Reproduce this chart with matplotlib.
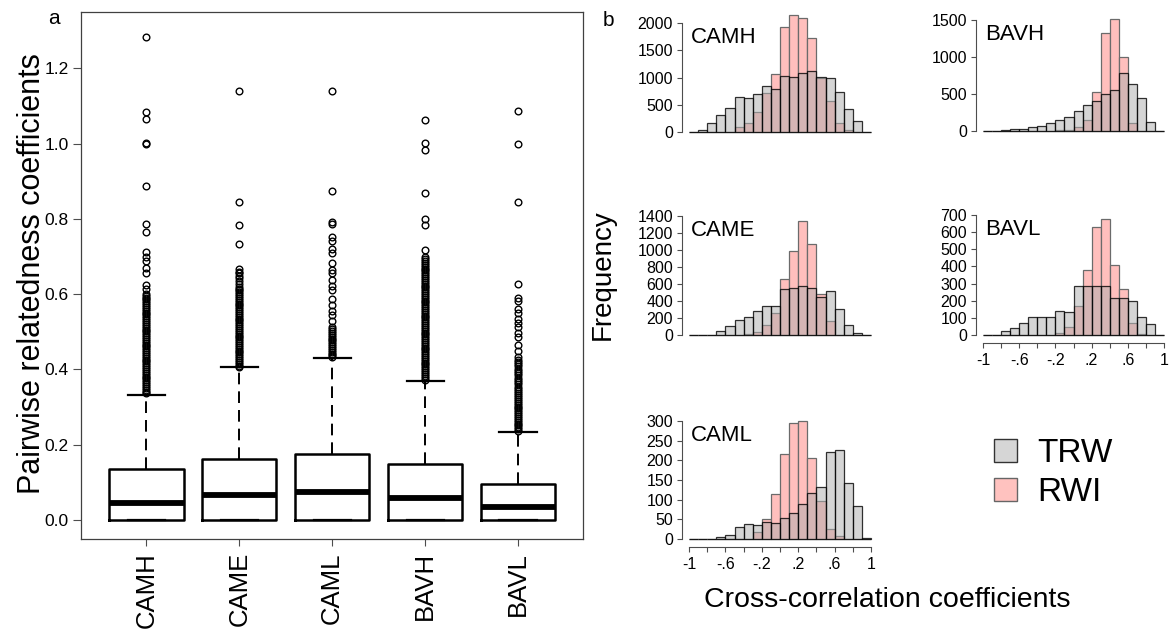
import numpy as np
import matplotlib
matplotlib.use('Agg')
import matplotlib.pyplot as plt
from matplotlib.patches import Patch

plt.rcParams['font.family'] = ['Liberation Sans', 'DejaVu Sans']

W, H = 1173, 630

# ---- panel a: pairwise relatedness per population ----
groups = ['CAMH', 'CAME', 'CAML', 'BAVH', 'BAVL']
q1 = [0.0, 0.0, 0.0, 0.0, 0.0]
medians = [0.045, 0.066, 0.075, 0.059, 0.034]
q3 = [0.136, 0.163, 0.174, 0.149, 0.094]
whisk_lo = [0.0, 0.0, 0.0, 0.0, 0.0]
whisk_hi = [0.333, 0.405, 0.430, 0.370, 0.234]

out_camh = [1.283, 1.085, 1.065, 1.003, 1.000, 0.888, 0.787, 0.766, 0.712, 0.700,
            0.687, 0.670, 0.657, 0.624, 0.613, 0.600, 0.596, 0.591, 0.586, 0.581,
            0.576, 0.571, 0.566, 0.561, 0.556, 0.551, 0.546, 0.541, 0.536, 0.531,
            0.526, 0.521, 0.516, 0.511, 0.506, 0.501, 0.496, 0.491, 0.486, 0.481,
            0.476, 0.471, 0.466, 0.461, 0.456, 0.451, 0.446, 0.441, 0.436, 0.431,
            0.426, 0.421, 0.416, 0.411, 0.406, 0.401, 0.396, 0.391, 0.386, 0.381,
            0.376, 0.371, 0.366, 0.361, 0.356, 0.351, 0.346, 0.341, 0.337]
out_came = [1.139, 0.845, 0.783, 0.733, 0.666, 0.660, 0.655, 0.648, 0.642, 0.636,
            0.628, 0.620, 0.615, 0.610, 0.605, 0.600, 0.595, 0.590, 0.585, 0.580,
            0.575, 0.570, 0.565, 0.560, 0.555, 0.550, 0.545, 0.540, 0.535, 0.530,
            0.525, 0.520, 0.515, 0.510, 0.505, 0.500, 0.495, 0.490, 0.485, 0.480,
            0.475, 0.470, 0.465, 0.460, 0.455, 0.450, 0.445, 0.440, 0.435, 0.430,
            0.425, 0.420, 0.415, 0.410, 0.407]
out_caml = [1.139, 0.873, 0.793, 0.787, 0.752, 0.741, 0.720, 0.709, 0.683, 0.665,
            0.656, 0.638, 0.622, 0.611, 0.587, 0.571, 0.554, 0.544, 0.528, 0.512,
            0.507, 0.502, 0.497, 0.492, 0.487, 0.482, 0.477, 0.472, 0.467, 0.462,
            0.457, 0.452, 0.447, 0.442, 0.437, 0.433]
out_bavh = [1.062, 1.003, 0.982, 0.870, 0.800, 0.784, 0.718, 0.699, 0.693, 0.688,
            0.683, 0.678, 0.673, 0.668, 0.663, 0.658, 0.653, 0.648, 0.643, 0.638,
            0.633, 0.628, 0.623, 0.618, 0.613, 0.608, 0.603, 0.598, 0.593, 0.588,
            0.583, 0.578, 0.573, 0.568, 0.563, 0.558, 0.553, 0.548, 0.543, 0.538,
            0.533, 0.528, 0.523, 0.518, 0.513, 0.508, 0.503, 0.498, 0.493, 0.488,
            0.483, 0.478, 0.473, 0.468, 0.463, 0.458, 0.453, 0.448, 0.443, 0.438,
            0.433, 0.428, 0.423, 0.418, 0.413, 0.408, 0.403, 0.398, 0.393, 0.388,
            0.383, 0.378, 0.373]
out_bavl = [1.088, 1.000, 0.845, 0.628, 0.589, 0.583, 0.560, 0.549, 0.535, 0.522,
            0.512, 0.498, 0.485, 0.466, 0.448, 0.432, 0.426, 0.420, 0.414, 0.408,
            0.402, 0.396, 0.390, 0.384, 0.378, 0.372, 0.366, 0.360, 0.354, 0.348,
            0.342, 0.336, 0.331, 0.326, 0.321, 0.316, 0.311, 0.306, 0.301, 0.296,
            0.291, 0.286, 0.281, 0.276, 0.271, 0.266, 0.261, 0.256, 0.251, 0.246,
            0.241, 0.237]
outliers = [out_camh, out_came, out_caml, out_bavh, out_bavl]

# ---- panel b: cross-correlation histograms (bin counts, width 0.1 from -1 to 1) ----
trw_camh = [0, 43, 165, 320, 440, 645, 620, 700, 840, 785, 1035, 1010, 1090, 1120, 1005, 1000, 730, 415, 210, 0]
rwi_camh = [0, 0, 0, 0, 5, 90, 165, 360, 710, 1060, 1930, 2150, 2095, 1730, 990, 560, 165, 30, 0, 0]
trw_bavh = [0, 0, 9, 22, 27, 50, 72, 108, 153, 185, 270, 350, 405, 505, 550, 790, 630, 440, 117, 0]
rwi_bavh = [0, 0, 0, 0, 0, 0, 0, 0, 10, 10, 55, 145, 530, 1320, 1520, 1000, 105, 5, 0, 0]
trw_came = [0, 0, 0, 43, 106, 176, 208, 282, 337, 341, 537, 553, 572, 557, 443, 517, 306, 122, 27, 0]
rwi_came = [0, 0, 0, 0, 0, 0, 15, 40, 118, 255, 655, 990, 1340, 1075, 486, 165, 0, 0, 0, 0]
trw_bavl = [0, 0, 21, 41, 68, 107, 103, 103, 138, 132, 286, 284, 284, 284, 216, 218, 196, 103, 62, 0]
rwi_bavl = [0, 0, 0, 0, 0, 0, 0, 0, 14, 45, 169, 377, 630, 675, 408, 270, 68, 6, 0, 0]
trw_caml = [0, 0, 0, 6, 9, 30, 37, 35, 42, 40, 53, 67, 88, 118, 133, 220, 226, 143, 84, 3]
rwi_caml = [0, 0, 0, 0, 0, 0, 0, 18, 50, 114, 215, 296, 300, 207, 97, 26, 8, 0, 0, 0]

bin_edges = np.round(np.linspace(-1, 1, 21), 2)

fig = plt.figure(figsize=(W / 100, H / 100), dpi=100)


def add_px_axes(x0, x1, y_top, y_bot):
    return fig.add_axes([x0 / W, 1 - y_bot / H, (x1 - x0) / W, (y_bot - y_top) / H])


# boxplot
ax = add_px_axes(81.4, 583, 11.7, 539)
stats = []
for i, g in enumerate(groups):
    stats.append(dict(label=g, med=medians[i], q1=q1[i], q3=q3[i],
                      whislo=whisk_lo[i], whishi=whisk_hi[i], fliers=outliers[i]))
ax.bxp(stats, positions=range(1, 6), widths=0.8, capwidths=0.4,
       boxprops=dict(color='black', lw=1.8),
       medianprops=dict(color='black', lw=4.2, solid_capstyle='butt'),
       whiskerprops=dict(color='black', lw=1.4, linestyle=(0, (6, 3.6))),
       capprops=dict(color='black', lw=1.6),
       flierprops=dict(marker='o', markersize=4.8, markerfacecolor='none',
                       markeredgecolor='black', markeredgewidth=1.0))
ax.set_xlim(0.3, 5.7)
ax.set_ylim(-0.051, 1.351)
ax.set_yticks([0, 0.2, 0.4, 0.6, 0.8, 1.0, 1.2])
ax.set_yticklabels(['0.0', '0.2', '0.4', '0.6', '0.8', '1.0', '1.2'])
ax.set_xticks(range(1, 6))
ax.set_xticklabels(groups, rotation=90, va='top', ha='center')
ax.tick_params(axis='y', length=5.5, width=0.8, pad=3.5, labelsize=12.5, color='0.3')
ax.tick_params(axis='x', length=5, width=0.8, pad=4.5, labelsize=18.5, color='0.3')
for s in ax.spines.values():
    s.set_linewidth(0.9)
    s.set_color('0.25')

fig.text(32 / W, 1 - 274 / H, 'Pairwise relatedness coefficients', rotation=90,
         ha='center', va='center', fontsize=22)
fig.text(54 / W, 1 - 19 / H, 'a', ha='center', va='center', fontsize=15)
fig.text(608 / W, 1 - 21 / H, 'b', ha='center', va='center', fontsize=15)

# histograms
panels = [
    ('CAMH', trw_camh, rwi_camh, (689, 871, 23, 132), 2000, 500, False),
    ('BAVH', trw_bavh, rwi_bavh, (983, 1164, 20, 131), 1500, 500, False),
    ('CAME', trw_came, rwi_came, (689, 871, 216, 335), 1400, 200, False),
    ('BAVL', trw_bavl, rwi_bavl, (983, 1164, 215, 335), 700, 100, True),
    ('CAML', trw_caml, rwi_caml, (689, 871, 421, 539), 300, 50, True),
]
rwi_face = (1.0, 0.75, 0.74)
rwi_edge = (0.42, 0.42, 0.42)
trw_face = (0.68, 0.68, 0.68, 0.5)
trw_edge = (0.0, 0.0, 0.0, 0.8)

for name, trw, rwi, box, ytop, ystep, xaxis in panels:
    hx = add_px_axes(*box)
    hx.bar(bin_edges[:-1], rwi, width=0.1, align='edge', color=rwi_face,
           edgecolor=rwi_edge, lw=0.9, clip_on=False)
    hx.bar(bin_edges[:-1], trw, width=0.1, align='edge', color=trw_face,
           edgecolor=trw_edge, lw=0.9, clip_on=False)
    hx.set_xlim(-1, 1)
    hx.set_ylim(0, ytop)
    hx.set_yticks(np.arange(0, ytop + 1, ystep))
    hx.spines['top'].set_visible(False)
    hx.spines['right'].set_visible(False)
    hx.spines['left'].set_position(('outward', 5.3))
    hx.spines['left'].set_color('0.3')
    hx.tick_params(axis='y', length=3.8, width=0.8, pad=2.5, labelsize=11.5, color='0.3')
    if xaxis:
        hx.spines['bottom'].set_position(('outward', 5.8))
        hx.spines['bottom'].set_bounds(-1, 1)
        hx.spines['bottom'].set_color('0.3')
        hx.set_xticks(np.round(np.linspace(-1, 1, 11), 1))
        hx.set_xticklabels(['-1', '', '-.6', '', '-.2', '', '.2', '', '.6', '', '1'])
        hx.tick_params(axis='x', length=3.8, width=0.8, pad=3.5, labelsize=11.5, color='0.3')
    else:
        hx.spines['bottom'].set_visible(False)
        hx.set_xticks([])
    x0, x1, y_top, y_bot = box
    fig.text((x0 + 2) / W, 1 - (y_top + 20) / H, name, ha='left', va='baseline', fontsize=16)

fig.text(603 / W, 1 - 275 / H, 'Frequency', rotation=90, ha='center', va='center', fontsize=20)
fig.text(887 / W, 1 - 600 / H, 'Cross-correlation coefficients', ha='center', va='center',
         fontsize=20.5)

handles = [Patch(facecolor=(0.84, 0.84, 0.84), edgecolor='0.2', lw=1.0, label='TRW'),
           Patch(facecolor=(1.0, 0.76, 0.75), edgecolor='0.4', lw=1.0, label='RWI')]
fig.legend(handles=handles, loc='upper left', bbox_to_anchor=(994 / W, 1 - 438 / H),
           frameon=False, fontsize=24, handlelength=0.7, handleheight=0.7,
           handletextpad=0.6, labelspacing=0.25, borderpad=0, borderaxespad=0)

fig.savefig('out.png', dpi=100)
